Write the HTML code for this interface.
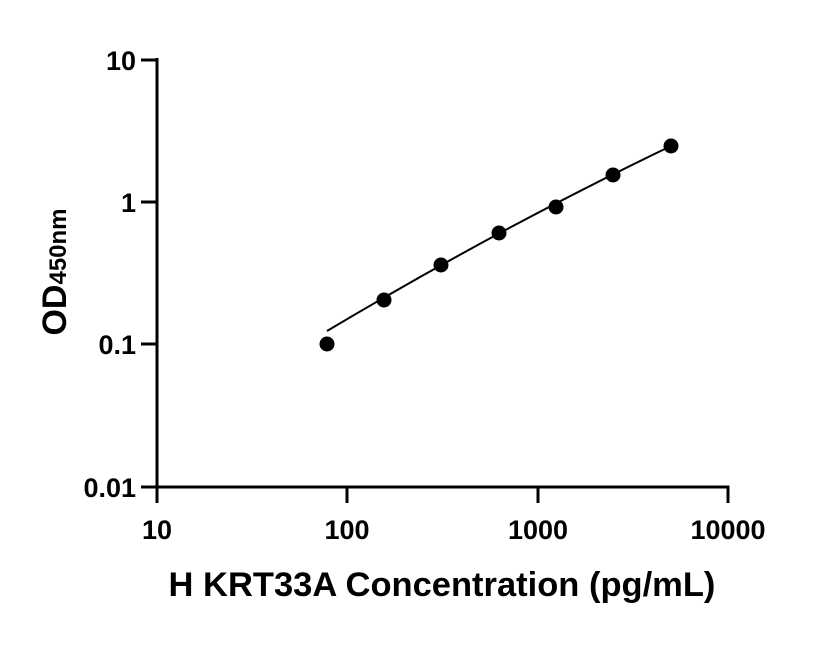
<!DOCTYPE html>
<html><head><style>body{margin:0;background:#fff}</style></head><body>
<svg width="816" height="640" xmlns="http://www.w3.org/2000/svg" font-family="Liberation Sans, Arial, sans-serif" font-weight="bold">
<g stroke="#000" stroke-width="3" fill="none">
<line x1="157" y1="58" x2="157" y2="503"/>
<line x1="155.5" y1="487" x2="729.5" y2="487"/>
<line x1="141" y1="60" x2="157" y2="60"/>
<line x1="141" y1="202" x2="157" y2="202"/>
<line x1="141" y1="344" x2="157" y2="344"/>
<line x1="141" y1="487" x2="157" y2="487"/>
<line x1="347" y1="487" x2="347" y2="503"/>
<line x1="538" y1="487" x2="538" y2="503"/>
<line x1="728" y1="487" x2="728" y2="503"/>
</g>
<path fill="none" stroke="#000" stroke-width="2" d="M327,331 Q499,228.5 671,146"/>
<g fill="#000">
<circle cx="327" cy="344" r="7.5"/><circle cx="384" cy="300" r="7.5"/><circle cx="441" cy="265" r="7.5"/>
<circle cx="499" cy="233" r="7.5"/><circle cx="556" cy="207" r="7.5"/><circle cx="613" cy="175" r="7.5"/><circle cx="671" cy="146" r="7.5"/>
</g>
<g font-size="27" text-anchor="end">
<text x="136" y="70">10</text><text x="136" y="212">1</text><text x="136" y="354">0.1</text><text x="136" y="497">0.01</text>
</g>
<g font-size="27" text-anchor="middle">
<text x="157" y="539">10</text><text x="347" y="539">100</text><text x="538" y="539">1000</text><text x="728" y="539">10000</text>
</g>
<text x="442" y="596" font-size="34.5" text-anchor="middle">H KRT33A Concentration (pg/mL)</text>
<text transform="translate(66,272) rotate(-90)" font-size="34" text-anchor="middle">OD<tspan font-size="24">450nm</tspan></text>
</svg>
</body></html>
